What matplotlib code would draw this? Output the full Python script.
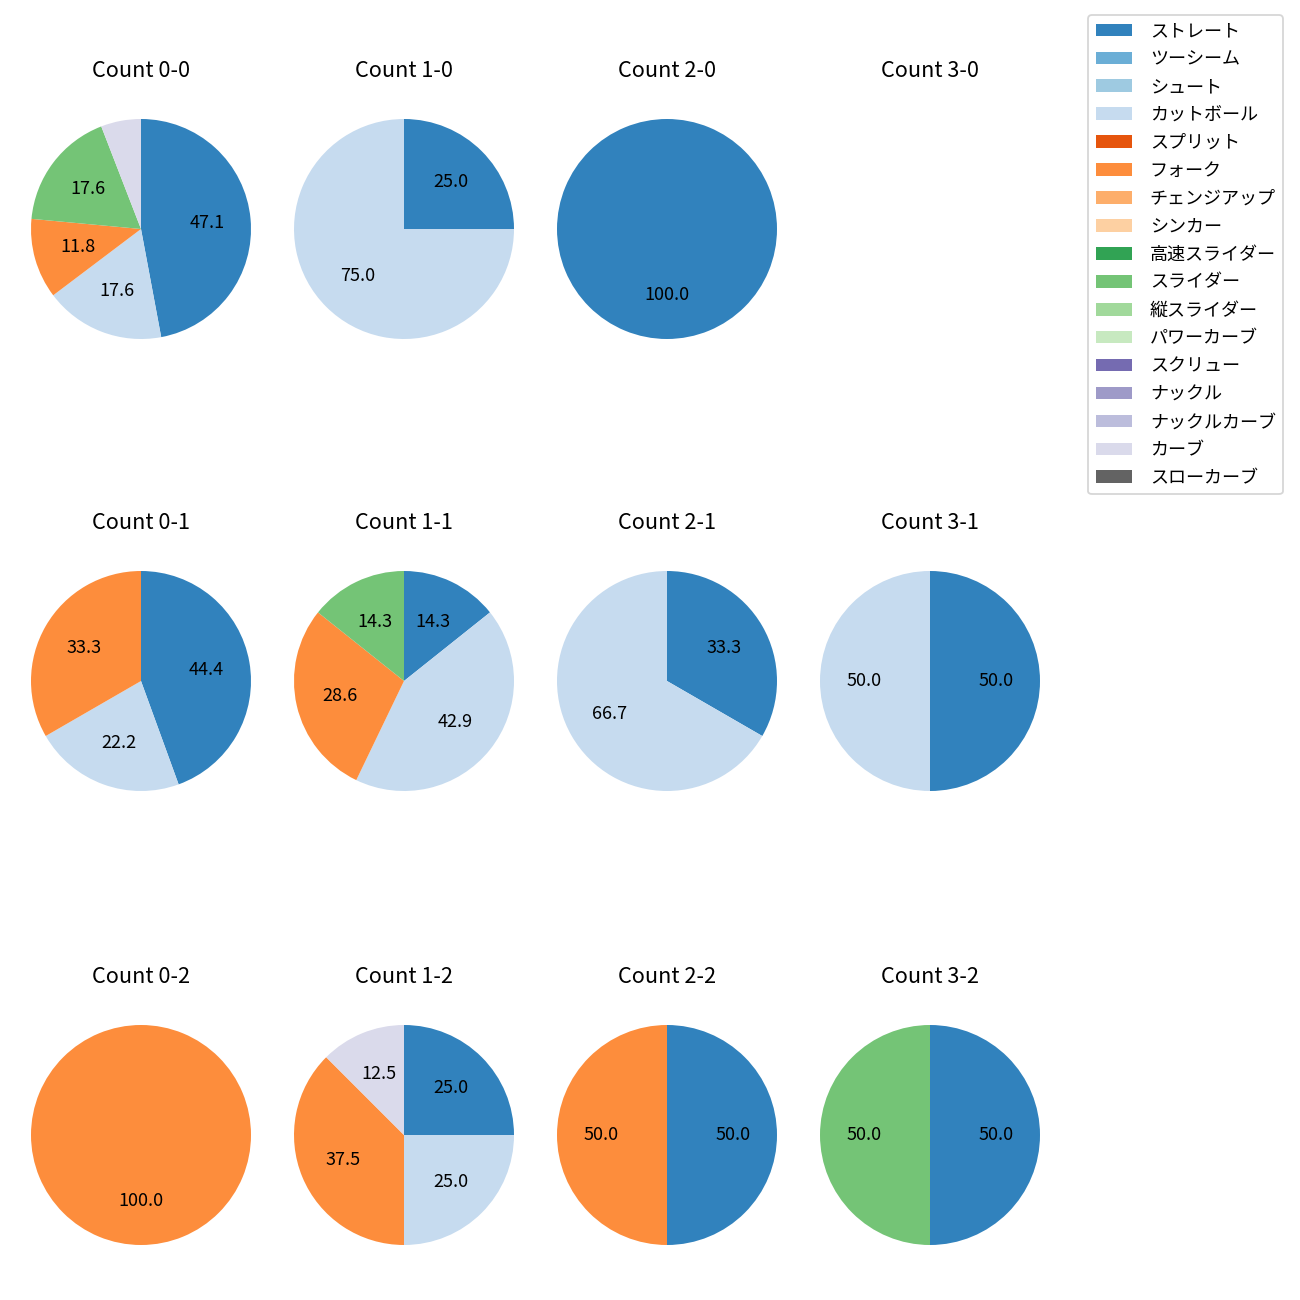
import matplotlib
matplotlib.use("Agg")
import matplotlib.pyplot as plt
from matplotlib.patches import Patch

plt.rcParams['font.family'] = ['Noto Sans CJK JP', 'DejaVu Sans']

pitch_types = ['ストレート', 'ツーシーム', 'シュート', 'カットボール', 'スプリット', 'フォーク',
               'チェンジアップ', 'シンカー', '高速スライダー', 'スライダー', '縦スライダー',
               'パワーカーブ', 'スクリュー', 'ナックル', 'ナックルカーブ', 'カーブ', 'スローカーブ']

# counts per pitch type for each ball-strike count
count_0_0 = {'ストレート': 8, 'カットボール': 3, 'フォーク': 2, 'スライダー': 3, 'カーブ': 1}
count_1_0 = {'ストレート': 1, 'カットボール': 3}
count_2_0 = {'ストレート': 1}
count_3_0 = {}
count_0_1 = {'ストレート': 4, 'カットボール': 2, 'フォーク': 3}
count_1_1 = {'ストレート': 1, 'カットボール': 3, 'フォーク': 2, 'スライダー': 1}
count_2_1 = {'ストレート': 1, 'カットボール': 2}
count_3_1 = {'ストレート': 1, 'カットボール': 1}
count_0_2 = {'フォーク': 1}
count_1_2 = {'ストレート': 2, 'カットボール': 2, 'フォーク': 3, 'カーブ': 1}
count_2_2 = {'ストレート': 1, 'フォーク': 1}
count_3_2 = {'ストレート': 1, 'スライダー': 1}

grid = [
    [('Count 0-0', count_0_0), ('Count 1-0', count_1_0), ('Count 2-0', count_2_0), ('Count 3-0', count_3_0)],
    [('Count 0-1', count_0_1), ('Count 1-1', count_1_1), ('Count 2-1', count_2_1), ('Count 3-1', count_3_1)],
    [('Count 0-2', count_0_2), ('Count 1-2', count_1_2), ('Count 2-2', count_2_2), ('Count 3-2', count_3_2)],
]

cmap = plt.get_cmap('tab20c')
colors = {p: cmap(i) for i, p in enumerate(pitch_types)}

W = H = 1300
fig = plt.figure(figsize=(10, 10), dpi=130)

col_centers = [141, 404, 667, 930]
row_centers = [229, 681, 1135]
size = 275

for r, row in enumerate(grid):
    for c, (title, data) in enumerate(row):
        cx, cy = col_centers[c], row_centers[r]
        ax = fig.add_axes([(cx - size / 2) / W, 1 - (cy + size / 2) / H, size / W, size / H])
        labels = [p for p in pitch_types if data.get(p, 0) > 0]
        vals = [data[p] for p in labels]
        if vals:
            ax.pie(vals, colors=[colors[p] for p in labels], startangle=90, counterclock=False,
                   autopct=lambda pct: f'{pct:.1f}' if pct >= 10 else '',
                   textprops={'fontsize': 10})
        else:
            ax.set_xlim(-1.25, 1.25)
            ax.set_ylim(-1.25, 1.25)
            ax.set_aspect('equal')
            ax.axis('off')
        ax.set_title(title, fontsize=12, pad=8)

handles = [Patch(facecolor=colors[p], label=p) for p in pitch_types]
fig.legend(handles=handles, loc='upper right', bbox_to_anchor=(1283 / W, 1 - 15 / H),
           borderaxespad=0, fontsize=10, labelspacing=0.55, handletextpad=1.0)

fig.savefig('out.png', dpi=130)
